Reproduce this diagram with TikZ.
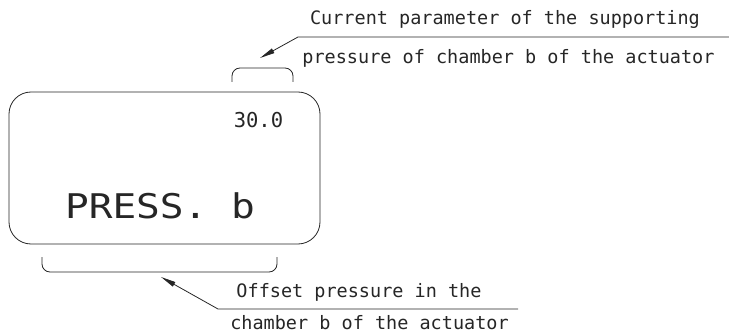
\documentclass[tikz,border=0pt]{standalone}
\usepackage{fontspec}
\setmonofont{DejaVu Sans Mono}
\usetikzlibrary{arrows.meta}
\begin{document}
\begin{tikzpicture}[x=1pt,y=-1pt,
  line/.style={line width=0.8pt, draw=black!85},
  lbl/.style={font=\ttfamily\fontsize{18.5}{20}\selectfont, inner sep=0pt, text=black!85},
  leader/.style={line, {Triangle[length=15pt,width=5pt]}-}]
\useasboundingbox (0,0) rectangle (729,334);
% display box
\node[line, rounded corners=22pt, minimum width=311pt, minimum height=152pt, inner sep=0pt] (disp) at (164.5,168) {};
\node[font=\ttfamily\fontsize{20.5}{22}\selectfont, inner sep=0pt, text=black!85] (val) at (258.5,120) {30.0};
\node[font=\ttfamily\fontsize{34}{36}\selectfont, inner sep=0pt, text=black!85] (name) at (160,206) {\scalebox{1.16}[1]{PRESS. b}};
% brackets
\draw[line, rounded corners=8pt] (232,82) -- (232,68) -- (293,68) -- (293,82);
\draw[line, rounded corners=8pt] (42,257) -- (42,272) -- (277,272) -- (277,257);
% top labels
\node[lbl] (t1) at (505,19) {Current parameter of the supporting};
\node[lbl] (t2) at (508.5,58) {pressure of chamber b of the actuator};
\coordinate (tk) at (298,37);
\coordinate (te) at (729,37);
\coordinate (ta) at (260,58);
\draw[leader] (ta) -- (tk) -- (te);
% bottom labels
\node[lbl] (b1) at (359,292) {Offset pressure in the};
\node[lbl] (b2) at (369.5,323) {chamber b of the actuator};
\coordinate (bk) at (218,309);
\coordinate (be) at (518,309);
\coordinate (ba) at (161,277);
\draw[leader] (ba) -- (bk) -- (be);
\end{tikzpicture}
\end{document}
